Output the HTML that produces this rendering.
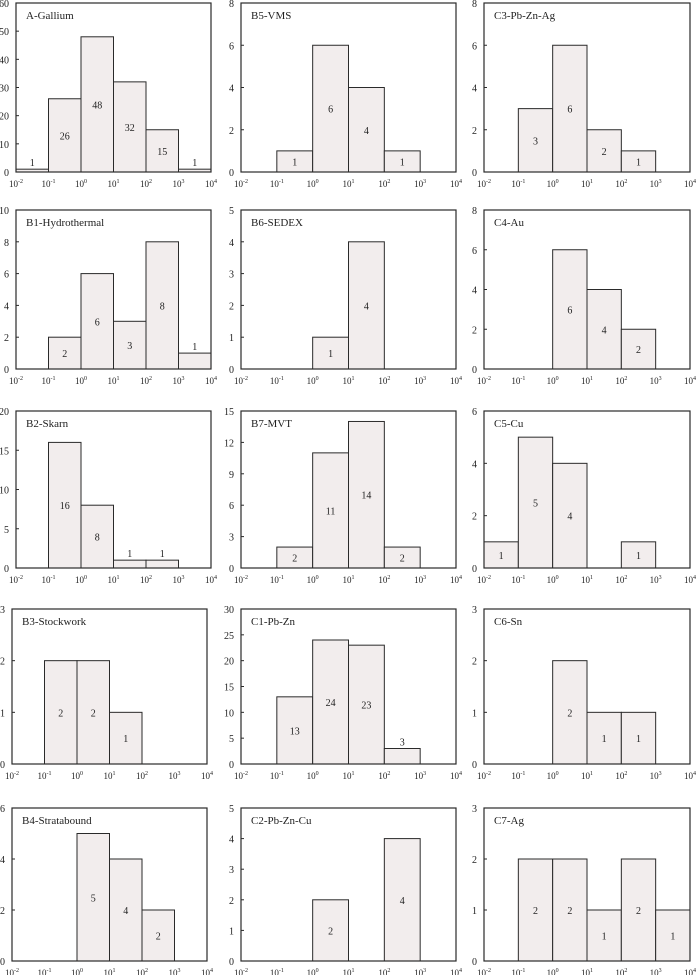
<!DOCTYPE html>
<html><head><meta charset="utf-8">
<style>
html,body{margin:0;padding:0;background:#fff;}
svg{display:block;font-family:"Liberation Serif",serif;}
</style></head>
<body>
<svg id="chart" width="696" height="975" viewBox="0 0 696 975" xmlns="http://www.w3.org/2000/svg"></svg>
<script>
// Panel data
const titles = ["A-Gallium","B5-VMS","C3-Pb-Zn-Ag","B1-Hydrothermal","B6-SEDEX","C4-Au","B2-Skarn","B7-MVT","C5-Cu","B3-Stockwork","C1-Pb-Zn","C6-Sn","B4-Stratabound","C2-Pb-Zn-Cu","C7-Ag"];
const yMax = [60,8,8,10,5,8,20,15,6,3,30,3,6,5,3];
const yStep = [10,2,2,2,1,2,5,3,2,1,5,1,2,1,1];
// counts per decade bin from 10^-2 to 10^4 (6 bins)
const counts = [
  [1,26,48,32,15,1],
  [0,1,6,4,1,0],
  [0,3,6,2,1,0],
  [0,2,6,3,8,1],
  [0,0,1,4,0,0],
  [0,0,6,4,2,0],
  [0,16,8,1,1,0],
  [0,2,11,14,2,0],
  [1,5,4,0,1,0],
  [0,2,2,1,0,0],
  [0,13,24,23,3,0],
  [0,0,2,1,1,0],
  [0,0,5,4,2,0],
  [0,0,2,0,4,0],
  [0,2,2,1,2,1]
];
const xExps = ["-2","-1","0","1","2","3","4"];

const colL=[16,241,484], colR=[211,456,690];
const rowT=[3,210,411,609,808], rowB=[172,369,568,764,961];
const NS="http://www.w3.org/2000/svg";
const svg=document.getElementById('chart');
function mk(tag,attrs,parent){const e=document.createElementNS(NS,tag);for(const k in attrs)e.setAttribute(k,attrs[k]);(parent||svg).appendChild(e);return e;}

titles.forEach((title,i)=>{
  const r=Math.floor(i/3), c=i%3;
  let L=colL[c], R=colR[c];
  if(c===0&&r>=3){L=12;R=207;}
  const T=rowT[r], B=rowB[r];
  const g=mk('g',{});
  
  
  const xs=e=>L+(R-L)*(e+2)/6;
  const ys=v=>B-(B-T)*v/yMax[i];
  counts[i].forEach((v,b)=>{
    if(v<=0)return;
    const x0=xs(b-2), x1=xs(b-1), y=ys(v);
    const rect=mk('rect',{x:x0,y:y,width:x1-x0,height:B-y,fill:'#f2eded',stroke:'#2a2a2a','stroke-width':1},g);
    
    
    const h=B-y;
    const ty=h>16?(y+B)/2+4:y-3;
    const t=mk('text',{x:(x0+x1)/2,y:ty,'font-size':10,'text-anchor':'middle',fill:'#222'},g);
    t.textContent=v;
    
    
  });
  const box=mk('rect',{x:L,y:T,width:R-L,height:B-T,fill:'none',stroke:'#2a2a2a','stroke-width':1.2},g);
  
  
  const tt=mk('text',{x:L+10,y:T+16,'font-size':11,fill:'#222'},g);
  tt.textContent=title;
  
  
  for(let v=0;v<=yMax[i]+1e-9;v+=yStep[i]){
    const y=ys(v);
    if(v>0&&v<yMax[i]) mk('line',{x1:L,x2:L+3,y1:y,y2:y,stroke:'#2a2a2a','stroke-width':1},g);
    const yl=mk('text',{x:L-7,y:y+4,'font-size':10,'text-anchor':'end',fill:'#222'},g);
    yl.textContent=v;
    
    
  }
  xExps.forEach((ex,k)=>{
    const x=xs(k-2);
    const xl=mk('text',{x:x,y:B+15,'font-size':9,'text-anchor':'middle',fill:'#222'},g);
    
    
    const s1=mk('tspan',{},xl); s1.textContent='10';
    const s2=mk('tspan',{dy:-4,'font-size':6},xl); s2.textContent=ex;
  });
});
</script>
</body></html>
